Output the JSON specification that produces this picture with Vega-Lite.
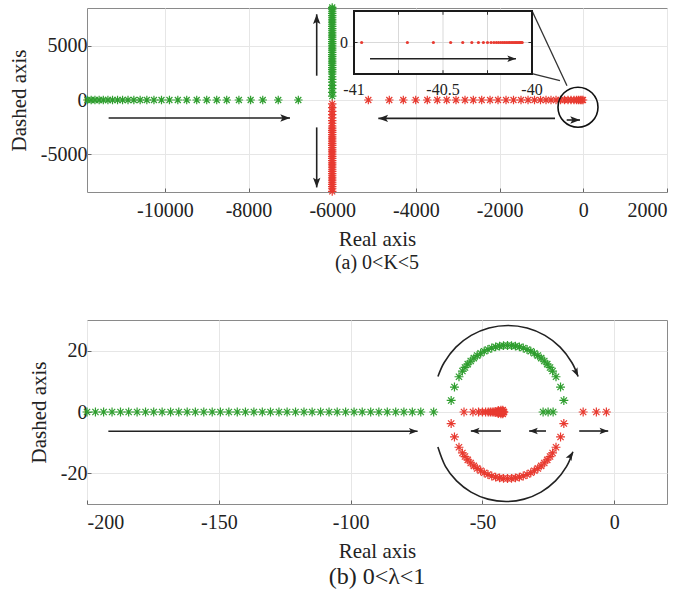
{
  "$schema": "https://vega.github.io/schema/vega-lite/v6.json",
  "background": "white",
  "padding": {"left": 7, "top": 0, "right": 5, "bottom": 5},
  "config": {
    "view": {"stroke": "#8a8a8a", "strokeWidth": 1},
    "font": "'Liberation Serif', 'Times New Roman', serif",
    "axis": {"labelFont": "'Liberation Serif', 'Times New Roman', serif", "labelFontSize": 20, "labelColor": "#222", "titleFont": "'Liberation Serif', 'Times New Roman', serif", "titleFontSize": 21, "titleFontWeight": "normal", "titleColor": "#222", "gridColor": "#e6e6e6", "gridWidth": 1, "domain": false, "tickColor": "#666", "tickSize": -4, "labelPadding": 12, "titlePadding": 8},
    "axisY": {"labelPadding": 4, "titlePadding": 11},
    "title": {"font": "'Liberation Serif', 'Times New Roman', serif", "fontWeight": "normal", "color": "#222"},
    "text": {"font": "'Liberation Serif', 'Times New Roman', serif"}
  },
  "datasets": {
    "ptsA": [
      {"x": -11850, "y": 0, "c": "g"}, {"x": -11760, "y": 0, "c": "g"}, {"x": -11670, "y": 0, "c": "g"}, {"x": -11570, "y": 0, "c": "g"}, {"x": -11470, "y": 0, "c": "g"}, {"x": -11360, "y": 0, "c": "g"}, {"x": -11250, "y": 0, "c": "g"}, {"x": -11130, "y": 0, "c": "g"}, {"x": -11010, "y": 0, "c": "g"}, {"x": -10880, "y": 0, "c": "g"}, {"x": -10740, "y": 0, "c": "g"}, {"x": -10590, "y": 0, "c": "g"}, {"x": -10430, "y": 0, "c": "g"}, {"x": -10260, "y": 0, "c": "g"}, {"x": -10080, "y": 0, "c": "g"}, {"x": -9890, "y": 0, "c": "g"}, {"x": -9690, "y": 0, "c": "g"}, {"x": -9477, "y": 0, "c": "g"}, {"x": -9238, "y": 0, "c": "g"}, {"x": -8999, "y": 0, "c": "g"}, {"x": -8760, "y": 0, "c": "g"}, {"x": -8521, "y": 0, "c": "g"}, {"x": -8230, "y": 0, "c": "g"}, {"x": -7950, "y": 0, "c": "g"}, {"x": -7660, "y": 0, "c": "g"}, {"x": -7290, "y": 0, "c": "g"}, {"x": -6810, "y": 0, "c": "g"},
      {"x": -6000, "y": 350, "c": "g"}, {"x": -6000, "y": 700, "c": "g"}, {"x": -6000, "y": 1050, "c": "g"}, {"x": -6000, "y": 1350, "c": "g"}, {"x": -6000, "y": 1650, "c": "g"}, {"x": -6000, "y": 1900, "c": "g"}, {"x": -6000, "y": 2150, "c": "g"}, {"x": -6000, "y": 2400, "c": "g"}, {"x": -6000, "y": 2600, "c": "g"}, {"x": -6000, "y": 2800, "c": "g"}, {"x": -6000, "y": 3000, "c": "g"}, {"x": -6000, "y": 3200, "c": "g"}, {"x": -6000, "y": 3400, "c": "g"}, {"x": -6000, "y": 3600, "c": "g"}, {"x": -6000, "y": 3800, "c": "g"}, {"x": -6000, "y": 4000, "c": "g"}, {"x": -6000, "y": 4200, "c": "g"}, {"x": -6000, "y": 4400, "c": "g"}, {"x": -6000, "y": 4600, "c": "g"}, {"x": -6000, "y": 4800, "c": "g"}, {"x": -6000, "y": 5000, "c": "g"}, {"x": -6000, "y": 5200, "c": "g"}, {"x": -6000, "y": 5400, "c": "g"}, {"x": -6000, "y": 5600, "c": "g"}, {"x": -6000, "y": 5800, "c": "g"}, {"x": -6000, "y": 6000, "c": "g"}, {"x": -6000, "y": 6200, "c": "g"}, {"x": -6000, "y": 6400, "c": "g"}, {"x": -6000, "y": 6600, "c": "g"}, {"x": -6000, "y": 6800, "c": "g"}, {"x": -6000, "y": 7000, "c": "g"}, {"x": -6000, "y": 7200, "c": "g"}, {"x": -6000, "y": 7400, "c": "g"}, {"x": -6000, "y": 7600, "c": "g"}, {"x": -6000, "y": 7800, "c": "g"}, {"x": -6000, "y": 8000, "c": "g"}, {"x": -6000, "y": 8200, "c": "g"}, {"x": -6000, "y": 8400, "c": "g"}, {"x": -6000, "y": 8550, "c": "g"},
      {"x": -6000, "y": -350, "c": "r"}, {"x": -6000, "y": -700, "c": "r"}, {"x": -6000, "y": -1050, "c": "r"}, {"x": -6000, "y": -1350, "c": "r"}, {"x": -6000, "y": -1650, "c": "r"}, {"x": -6000, "y": -1900, "c": "r"}, {"x": -6000, "y": -2150, "c": "r"}, {"x": -6000, "y": -2400, "c": "r"}, {"x": -6000, "y": -2600, "c": "r"}, {"x": -6000, "y": -2800, "c": "r"}, {"x": -6000, "y": -3000, "c": "r"}, {"x": -6000, "y": -3200, "c": "r"}, {"x": -6000, "y": -3400, "c": "r"}, {"x": -6000, "y": -3600, "c": "r"}, {"x": -6000, "y": -3800, "c": "r"}, {"x": -6000, "y": -4000, "c": "r"}, {"x": -6000, "y": -4200, "c": "r"}, {"x": -6000, "y": -4400, "c": "r"}, {"x": -6000, "y": -4600, "c": "r"}, {"x": -6000, "y": -4800, "c": "r"}, {"x": -6000, "y": -5000, "c": "r"}, {"x": -6000, "y": -5200, "c": "r"}, {"x": -6000, "y": -5400, "c": "r"}, {"x": -6000, "y": -5600, "c": "r"}, {"x": -6000, "y": -5800, "c": "r"}, {"x": -6000, "y": -6000, "c": "r"}, {"x": -6000, "y": -6200, "c": "r"}, {"x": -6000, "y": -6400, "c": "r"}, {"x": -6000, "y": -6600, "c": "r"}, {"x": -6000, "y": -6800, "c": "r"}, {"x": -6000, "y": -7000, "c": "r"}, {"x": -6000, "y": -7200, "c": "r"}, {"x": -6000, "y": -7400, "c": "r"}, {"x": -6000, "y": -7600, "c": "r"}, {"x": -6000, "y": -7800, "c": "r"}, {"x": -6000, "y": -8000, "c": "r"}, {"x": -6000, "y": -8200, "c": "r"}, {"x": -6000, "y": -8450, "c": "r"},
      {"x": -5137, "y": 0, "c": "r"}, {"x": -4636, "y": 0, "c": "r"}, {"x": -4301, "y": 0, "c": "r"}, {"x": -4005, "y": 0, "c": "r"}, {"x": -3728, "y": 0, "c": "r"}, {"x": -3489, "y": 0, "c": "r"}, {"x": -3265, "y": 0, "c": "r"}, {"x": -3042, "y": 0, "c": "r"}, {"x": -2827, "y": 0, "c": "r"}, {"x": -2628, "y": 0, "c": "r"}, {"x": -2428, "y": 0, "c": "r"}, {"x": -2229, "y": 0, "c": "r"}, {"x": -2038, "y": 0, "c": "r"}, {"x": -1847, "y": 0, "c": "r"}, {"x": -1668, "y": 0, "c": "r"}, {"x": -1489, "y": 0, "c": "r"}, {"x": -1321, "y": 0, "c": "r"}, {"x": -1166, "y": 0, "c": "r"}, {"x": -1023, "y": 0, "c": "r"}, {"x": -891, "y": 0, "c": "r"}, {"x": -772, "y": 0, "c": "r"}, {"x": -652, "y": 0, "c": "r"}, {"x": -545, "y": 0, "c": "r"}, {"x": -449, "y": 0, "c": "r"}, {"x": -366, "y": 0, "c": "r"}, {"x": -294, "y": 0, "c": "r"}, {"x": -222, "y": 0, "c": "r"}, {"x": -162, "y": 0, "c": "r"}, {"x": -115, "y": 0, "c": "r"}, {"x": -72, "y": 0, "c": "r"}, {"x": -36, "y": 0, "c": "r"}, {"x": -7, "y": 0, "c": "r"}
    ],
    "arrA": [
      {"x": -11343, "y": -1663, "x2": -7008, "y2": -1663},
      {"x": -676, "y": -1700, "x2": -4898, "y2": -1700},
      {"x": -397, "y": -1848, "x2": -79, "y2": -1848},
      {"x": -6371, "y": 2245, "x2": -6371, "y2": 7918},
      {"x": -6371, "y": -2531, "x2": -6371, "y2": -8075}
    ],
    "headA": [
      {"x": -7008, "y": -1663, "a": 90},
      {"x": -4898, "y": -1700, "a": 270},
      {"x": -79, "y": -1848, "a": 90},
      {"x": -6371, "y": 7918, "a": 0},
      {"x": -6371, "y": -8075, "a": 180}
    ],
    "circA": [{"x": -127, "y": -665}],
    "connA": [
      {"x": -1226, "y": 8250, "x2": -390, "y2": 1321},
      {"x": -1226, "y": 2430, "x2": -557, "y2": 1783}
    ],
    "inBox": [{"x": -41, "x2": -40, "y": -1, "y2": 1}],
    "inGridV": [
      {"x": -40.75, "y": -1, "y2": 1}, {"x": -40.5, "y": -1, "y2": 1}, {"x": -40.25, "y": -1, "y2": 1}
    ],
    "inGridH": [{"x": -41, "x2": -40, "y": 0}],
    "inTicks": [
      {"x": -40.75, "x2": -40.75, "y": -1, "y2": -0.88}, {"x": -40.5, "x2": -40.5, "y": -1, "y2": -0.88}, {"x": -40.25, "x2": -40.25, "y": -1, "y2": -0.88},
      {"x": -40.75, "x2": -40.75, "y": 1, "y2": 0.88}, {"x": -40.5, "x2": -40.5, "y": 1, "y2": 0.88}, {"x": -40.25, "x2": -40.25, "y": 1, "y2": 0.88},
      {"x": -41, "x2": -40.98, "y": 0, "y2": 0}, {"x": -40, "x2": -40.02, "y": 0, "y2": 0}
    ],
    "inDots": [
      {"x": -40.957, "y": 0}, {"x": -40.7, "y": 0}, {"x": -40.554, "y": 0}, {"x": -40.457, "y": 0}, {"x": -40.389, "y": 0}, {"x": -40.338, "y": 0}, {"x": -40.301, "y": 0}, {"x": -40.273, "y": 0}, {"x": -40.25, "y": 0}, {"x": -40.23, "y": 0}, {"x": -40.214, "y": 0}, {"x": -40.2, "y": 0}, {"x": -40.188, "y": 0}, {"x": -40.176, "y": 0}, {"x": -40.165, "y": 0}, {"x": -40.155, "y": 0}, {"x": -40.145, "y": 0}, {"x": -40.135, "y": 0}, {"x": -40.126, "y": 0}, {"x": -40.117, "y": 0}, {"x": -40.108, "y": 0}, {"x": -40.1, "y": 0}, {"x": -40.092, "y": 0}, {"x": -40.085, "y": 0}, {"x": -40.078, "y": 0}, {"x": -40.071, "y": 0}, {"x": -40.065, "y": 0}, {"x": -40.06, "y": 0}, {"x": -40.055, "y": 0}
    ],
    "inArr": [{"x": -40.91, "x2": -40.09, "y": -0.514}],
    "inHead": [{"x": -40.09, "y": -0.514, "a": 90}],
    "inLabX": [{"x": -41, "y": -1.5, "t": "-41"}, {"x": -40.5, "y": -1.5, "t": "-40.5"}, {"x": -40, "y": -1.5, "t": "-40"}],
    "inLabY": [{"x": -41, "y": 0, "t": "0"}],
    "ptsB": [
      {"x": -200, "y": 0, "c": "g"}, {"x": -196.8, "y": 0, "c": "g"}, {"x": -193.7, "y": 0, "c": "g"}, {"x": -190.5, "y": 0, "c": "g"}, {"x": -187.3, "y": 0, "c": "g"}, {"x": -184.2, "y": 0, "c": "g"}, {"x": -181, "y": 0, "c": "g"}, {"x": -177.8, "y": 0, "c": "g"}, {"x": -174.7, "y": 0, "c": "g"}, {"x": -171.5, "y": 0, "c": "g"}, {"x": -168.3, "y": 0, "c": "g"}, {"x": -165.2, "y": 0, "c": "g"}, {"x": -162, "y": 0, "c": "g"}, {"x": -158.9, "y": 0, "c": "g"}, {"x": -155.7, "y": 0, "c": "g"}, {"x": -152.5, "y": 0, "c": "g"}, {"x": -149.4, "y": 0, "c": "g"}, {"x": -146.2, "y": 0, "c": "g"}, {"x": -143, "y": 0, "c": "g"}, {"x": -139.9, "y": 0, "c": "g"}, {"x": -136.7, "y": 0, "c": "g"}, {"x": -133.5, "y": 0, "c": "g"}, {"x": -130.4, "y": 0, "c": "g"}, {"x": -127.2, "y": 0, "c": "g"}, {"x": -124.1, "y": 0, "c": "g"}, {"x": -120.9, "y": 0, "c": "g"}, {"x": -117.7, "y": 0, "c": "g"}, {"x": -114.6, "y": 0, "c": "g"}, {"x": -111.4, "y": 0, "c": "g"}, {"x": -108.2, "y": 0, "c": "g"}, {"x": -105.1, "y": 0, "c": "g"}, {"x": -101.9, "y": 0, "c": "g"}, {"x": -98.7, "y": 0, "c": "g"}, {"x": -95.6, "y": 0, "c": "g"}, {"x": -92.4, "y": 0, "c": "g"}, {"x": -89.3, "y": 0, "c": "g"}, {"x": -86.1, "y": 0, "c": "g"}, {"x": -82.9, "y": 0, "c": "g"}, {"x": -79.8, "y": 0, "c": "g"}, {"x": -76.6, "y": 0, "c": "g"}, {"x": -73.4, "y": 0, "c": "g"}, {"x": -68.5, "y": 0, "c": "g"},
      {"x": -19.13, "y": 3.77, "c": "g"}, {"x": -20.38, "y": 8.13, "c": "g"}, {"x": -22.1, "y": 11.5, "c": "g"}, {"x": -23.4, "y": 13.36, "c": "g"}, {"x": -24.37, "y": 14.52, "c": "g"}, {"x": -25.43, "y": 15.61, "c": "g"}, {"x": -26.55, "y": 16.62, "c": "g"}, {"x": -27.74, "y": 17.56, "c": "g"}, {"x": -29, "y": 18.4, "c": "g"}, {"x": -30.31, "y": 19.16, "c": "g"}, {"x": -31.67, "y": 19.82, "c": "g"}, {"x": -33.08, "y": 20.39, "c": "g"}, {"x": -34.52, "y": 20.86, "c": "g"}, {"x": -35.99, "y": 21.23, "c": "g"}, {"x": -37.48, "y": 21.49, "c": "g"}, {"x": -38.99, "y": 21.65, "c": "g"}, {"x": -40.5, "y": 21.7, "c": "g"}, {"x": -42.01, "y": 21.65, "c": "g"}, {"x": -43.52, "y": 21.49, "c": "g"}, {"x": -45.01, "y": 21.23, "c": "g"}, {"x": -46.48, "y": 20.86, "c": "g"}, {"x": -47.92, "y": 20.39, "c": "g"}, {"x": -49.33, "y": 19.82, "c": "g"}, {"x": -50.69, "y": 19.16, "c": "g"}, {"x": -52, "y": 18.4, "c": "g"}, {"x": -53.26, "y": 17.56, "c": "g"}, {"x": -54.45, "y": 16.62, "c": "g"}, {"x": -55.57, "y": 15.61, "c": "g"}, {"x": -56.63, "y": 14.52, "c": "g"}, {"x": -57.6, "y": 13.36, "c": "g"}, {"x": -58.9, "y": 11.5, "c": "g"}, {"x": -60.62, "y": 8.13, "c": "g"}, {"x": -61.87, "y": 3.77, "c": "g"},
      {"x": -27, "y": 0, "c": "g"}, {"x": -25.1, "y": 0, "c": "g"}, {"x": -23.2, "y": 0, "c": "g"},
      {"x": -19.13, "y": -3.77, "c": "r"}, {"x": -20.38, "y": -8.13, "c": "r"}, {"x": -22.1, "y": -11.5, "c": "r"}, {"x": -23.4, "y": -13.36, "c": "r"}, {"x": -24.37, "y": -14.52, "c": "r"}, {"x": -25.43, "y": -15.61, "c": "r"}, {"x": -26.55, "y": -16.62, "c": "r"}, {"x": -27.74, "y": -17.56, "c": "r"}, {"x": -29, "y": -18.4, "c": "r"}, {"x": -30.31, "y": -19.16, "c": "r"}, {"x": -31.67, "y": -19.82, "c": "r"}, {"x": -33.08, "y": -20.39, "c": "r"}, {"x": -34.52, "y": -20.86, "c": "r"}, {"x": -35.99, "y": -21.23, "c": "r"}, {"x": -37.48, "y": -21.49, "c": "r"}, {"x": -38.99, "y": -21.65, "c": "r"}, {"x": -40.5, "y": -21.7, "c": "r"}, {"x": -42.01, "y": -21.65, "c": "r"}, {"x": -43.52, "y": -21.49, "c": "r"}, {"x": -45.01, "y": -21.23, "c": "r"}, {"x": -46.48, "y": -20.86, "c": "r"}, {"x": -47.92, "y": -20.39, "c": "r"}, {"x": -49.33, "y": -19.82, "c": "r"}, {"x": -50.69, "y": -19.16, "c": "r"}, {"x": -52, "y": -18.4, "c": "r"}, {"x": -53.26, "y": -17.56, "c": "r"}, {"x": -54.45, "y": -16.62, "c": "r"}, {"x": -55.57, "y": -15.61, "c": "r"}, {"x": -56.63, "y": -14.52, "c": "r"}, {"x": -57.6, "y": -13.36, "c": "r"}, {"x": -58.9, "y": -11.5, "c": "r"}, {"x": -60.62, "y": -8.13, "c": "r"}, {"x": -61.87, "y": -3.77, "c": "r"},
      {"x": -57, "y": 0, "c": "r"}, {"x": -53.6, "y": 0, "c": "r"}, {"x": -51.5, "y": 0, "c": "r"}, {"x": -50, "y": 0, "c": "r"}, {"x": -48.8, "y": 0, "c": "r"}, {"x": -47.8, "y": 0, "c": "r"}, {"x": -47, "y": 0, "c": "r"}, {"x": -46.3, "y": 0, "c": "r"}, {"x": -45.7, "y": 0, "c": "r"}, {"x": -45.2, "y": 0, "c": "r"}, {"x": -44.7, "y": 0, "c": "r"}, {"x": -44.3, "y": 0, "c": "r"}, {"x": -43.9, "y": 0, "c": "r"}, {"x": -43.6, "y": 0, "c": "r"}, {"x": -43.3, "y": 0, "c": "r"}, {"x": -43, "y": 0, "c": "r"}, {"x": -42.8, "y": 0, "c": "r"}, {"x": -42.6, "y": 0, "c": "r"}, {"x": -42.4, "y": 0, "c": "r"}, {"x": -42.2, "y": 0, "c": "r"}, {"x": -42, "y": 0, "c": "r"}, {"x": -41.85, "y": 0, "c": "r"},
      {"x": -44, "y": 0.5, "c": "r"}, {"x": -44, "y": -0.5, "c": "r"}, {"x": -43, "y": 0.6, "c": "r"}, {"x": -43, "y": -0.6, "c": "r"}, {"x": -42.3, "y": 0.6, "c": "r"}, {"x": -42.3, "y": -0.6, "c": "r"},
      {"x": -11.8, "y": 0, "c": "r"}, {"x": -6.8, "y": 0, "c": "r"}, {"x": -3, "y": 0, "c": "r"}
    ],
    "arrB": [
      {"x": -191.9, "y": -6.3, "x2": -74.6, "y2": -6.3},
      {"x": -43, "y": -6.2, "x2": -54.4, "y2": -6.2},
      {"x": -25.9, "y": -6.2, "x2": -32.3, "y2": -6.2},
      {"x": -13.3, "y": -6.2, "x2": -2.3, "y2": -6.2}
    ],
    "arcB": [
      {"id": "t", "o": 1, "x": -66.88, "y": 11.55}, {"id": "t", "o": 2, "x": -64.5, "y": 16.15}, {"id": "t", "o": 3, "x": -60.06, "y": 21.14}, {"id": "t", "o": 4, "x": -54.28, "y": 24.97}, {"id": "t", "o": 5, "x": -47.54, "y": 27.38}, {"id": "t", "o": 6, "x": -40.3, "y": 28.2}, {"id": "t", "o": 7, "x": -33.06, "y": 27.38}, {"id": "t", "o": 8, "x": -26.32, "y": 24.97}, {"id": "t", "o": 9, "x": -20.54, "y": 21.14}, {"id": "t", "o": 10, "x": -16.1, "y": 16.15}, {"id": "t", "o": 11, "x": -13.72, "y": 11.55},
      {"id": "b", "o": 1, "x": -66.91, "y": -11.45}, {"id": "b", "o": 2, "x": -64.04, "y": -17.75}, {"id": "b", "o": 3, "x": -59.82, "y": -22.48}, {"id": "b", "o": 4, "x": -54.33, "y": -26.12}, {"id": "b", "o": 5, "x": -47.93, "y": -28.41}, {"id": "b", "o": 6, "x": -41.06, "y": -29.19}, {"id": "b", "o": 7, "x": -34.19, "y": -28.41}, {"id": "b", "o": 8, "x": -27.79, "y": -26.12}, {"id": "b", "o": 9, "x": -22.3, "y": -22.48}, {"id": "b", "o": 10, "x": -18.08, "y": -17.75}, {"id": "b", "o": 11, "x": -15.69, "y": -12.98}
    ],
    "headB": [
      {"x": -74.6, "y": -6.3, "a": 90},
      {"x": -54.4, "y": -6.2, "a": 270},
      {"x": -32.3, "y": -6.2, "a": 270},
      {"x": -2.3, "y": -6.2, "a": 90},
      {"x": -13.72, "y": 11.55, "a": 155},
      {"x": -15.69, "y": -12.98, "a": 30}
    ]
  },
  "vconcat": [
    {
      "width": 580,
      "height": 184,
      "title": {"text": "(a)  0<K<5", "orient": "bottom", "fontSize": 20, "offset": 4},
      "layer": [
        {
          "layer": [
            {
              "data": {"name": "ptsA"},
              "mark": {"type": "point", "shape": "M-1,0L1,0M0,-1L0,1M-0.7,-0.7L0.7,0.7M-0.7,0.7L0.7,-0.7", "filled": false, "size": 72, "strokeWidth": 1.2, "opacity": 1},
              "encoding": {
                "x": {"field": "x", "type": "quantitative", "scale": {"domain": [-11860, 2000], "nice": false, "zero": false}, "axis": {"values": [-10000, -8000, -6000, -4000, -2000, 0, 2000], "format": "d", "labelExpr": "replace(datum.label, '\u2212', '-')", "title": "Real axis"}},
                "y": {"field": "y", "type": "quantitative", "scale": {"domain": [-8500, 8500], "nice": false, "zero": false}, "axis": {"values": [-5000, 0, 5000], "format": "d", "labelExpr": "replace(datum.label, '\u2212', '-')", "title": "Dashed axis"}},
                "color": {"field": "c", "type": "nominal", "scale": {"domain": ["g", "r"], "range": ["#2f9e2f", "#e83a30"]}, "legend": null}
              }
            },
            {
              "data": {"name": "arrA"},
              "mark": {"type": "rule", "color": "#222", "strokeWidth": 1.6},
              "encoding": {"x": {"field": "x", "type": "quantitative"}, "y": {"field": "y", "type": "quantitative"}, "x2": {"field": "x2"}, "y2": {"field": "y2"}}
            },
            {
              "data": {"name": "headA"},
              "mark": {"type": "point", "shape": "M0,0L-0.38,1L0,0.78L0.38,1Z", "filled": true, "color": "#222", "size": 380, "opacity": 1, "strokeWidth": 0},
              "encoding": {"x": {"field": "x", "type": "quantitative"}, "y": {"field": "y", "type": "quantitative"}, "angle": {"field": "a", "type": "quantitative", "scale": null}}
            },
            {
              "data": {"name": "circA"},
              "mark": {"type": "point", "shape": "circle", "filled": false, "color": "#111", "size": 1600, "strokeWidth": 1.6, "opacity": 1},
              "encoding": {"x": {"field": "x", "type": "quantitative"}, "y": {"field": "y", "type": "quantitative"}}
            },
            {
              "data": {"name": "connA"},
              "mark": {"type": "rule", "color": "#333", "strokeWidth": 1.3},
              "encoding": {"x": {"field": "x", "type": "quantitative"}, "y": {"field": "y", "type": "quantitative"}, "x2": {"field": "x2"}, "y2": {"field": "y2"}}
            }
          ]
        },
        {
          "layer": [
            {
              "data": {"name": "inBox"},
              "mark": {"type": "rect", "fill": "white", "strokeWidth": 0},
              "encoding": {
                "x": {"field": "x", "type": "quantitative", "scale": {"domain": [-41, -40], "range": [267, 445], "nice": false, "zero": false}, "axis": null},
                "x2": {"field": "x2"},
                "y": {"field": "y", "type": "quantitative", "scale": {"domain": [-1, 1], "range": [66, 3], "nice": false, "zero": false}, "axis": null},
                "y2": {"field": "y2"}
              }
            },
            {
              "data": {"name": "inGridV"},
              "mark": {"type": "rule", "color": "#d9d9d9", "strokeWidth": 1},
              "encoding": {"x": {"field": "x", "type": "quantitative"}, "y": {"field": "y", "type": "quantitative"}, "y2": {"field": "y2"}}
            },
            {
              "data": {"name": "inGridH"},
              "mark": {"type": "rule", "color": "#d9d9d9", "strokeWidth": 1},
              "encoding": {"x": {"field": "x", "type": "quantitative"}, "x2": {"field": "x2"}, "y": {"field": "y", "type": "quantitative"}}
            },
            {
              "data": {"name": "inTicks"},
              "mark": {"type": "rule", "color": "#333", "strokeWidth": 1},
              "encoding": {"x": {"field": "x", "type": "quantitative"}, "x2": {"field": "x2"}, "y": {"field": "y", "type": "quantitative"}, "y2": {"field": "y2"}}
            },
            {
              "data": {"name": "inDots"},
              "mark": {"type": "point", "shape": "circle", "filled": true, "color": "#e83a30", "size": 10, "opacity": 1},
              "encoding": {"x": {"field": "x", "type": "quantitative"}, "y": {"field": "y", "type": "quantitative"}}
            },
            {
              "data": {"name": "inArr"},
              "mark": {"type": "rule", "color": "#222", "strokeWidth": 1.6},
              "encoding": {"x": {"field": "x", "type": "quantitative"}, "x2": {"field": "x2"}, "y": {"field": "y", "type": "quantitative"}}
            },
            {
              "data": {"name": "inHead"},
              "mark": {"type": "point", "shape": "M0,0L-0.38,1L0,0.78L0.38,1Z", "filled": true, "color": "#222", "size": 300, "opacity": 1, "strokeWidth": 0},
              "encoding": {"x": {"field": "x", "type": "quantitative"}, "y": {"field": "y", "type": "quantitative"}, "angle": {"field": "a", "type": "quantitative", "scale": null}}
            },
            {
              "data": {"name": "inLabX"},
              "mark": {"type": "text", "font": "'Liberation Serif', 'Times New Roman', serif", "fontSize": 16, "color": "#222", "baseline": "middle", "align": "center"},
              "encoding": {"x": {"field": "x", "type": "quantitative"}, "y": {"field": "y", "type": "quantitative"}, "text": {"field": "t"}}
            },
            {
              "data": {"name": "inLabY"},
              "mark": {"type": "text", "font": "'Liberation Serif', 'Times New Roman', serif", "fontSize": 16, "color": "#222", "baseline": "middle", "align": "right", "dx": -6},
              "encoding": {"x": {"field": "x", "type": "quantitative"}, "y": {"field": "y", "type": "quantitative"}, "text": {"field": "t"}}
            },
            {
              "data": {"name": "inBox"},
              "mark": {"type": "rect", "fill": null, "fillOpacity": 0, "stroke": "#1a1a1a", "strokeWidth": 2},
              "encoding": {"x": {"field": "x", "type": "quantitative"}, "x2": {"field": "x2"}, "y": {"field": "y", "type": "quantitative"}, "y2": {"field": "y2"}}
            }
          ]
        }
      ],
      "resolve": {"scale": {"x": "independent", "y": "independent"}}
    },
    {
      "width": 580,
      "height": 184,
      "title": {"text": "(b)  0<λ<1", "orient": "bottom", "fontSize": 24, "offset": 4},
      "layer": [
        {
          "data": {"name": "ptsB"},
          "mark": {"type": "point", "shape": "M-1,0L1,0M0,-1L0,1M-0.7,-0.7L0.7,0.7M-0.7,0.7L0.7,-0.7", "filled": false, "size": 80, "strokeWidth": 1.2, "opacity": 1},
          "encoding": {
            "x": {"field": "x", "type": "quantitative", "scale": {"domain": [-200, 20], "nice": false, "zero": false}, "axis": {"values": [-200, -150, -100, -50, 0], "format": "d", "labelExpr": "replace(datum.label, '\u2212', '-')", "title": "Real axis"}},
            "y": {"field": "y", "type": "quantitative", "scale": {"domain": [-30, 30], "nice": false, "zero": false}, "axis": {"values": [-20, 0, 20], "format": "d", "labelExpr": "replace(datum.label, '\u2212', '-')", "title": "Dashed axis"}},
            "color": {"field": "c", "type": "nominal", "scale": {"domain": ["g", "r"], "range": ["#2f9e2f", "#e83a30"]}, "legend": null}
          }
        },
        {
          "data": {"name": "arrB"},
          "mark": {"type": "rule", "color": "#222", "strokeWidth": 1.6},
          "encoding": {"x": {"field": "x", "type": "quantitative"}, "y": {"field": "y", "type": "quantitative"}, "x2": {"field": "x2"}, "y2": {"field": "y2"}}
        },
        {
          "data": {"name": "arcB"},
          "mark": {"type": "line", "color": "#222", "strokeWidth": 1.6, "interpolate": "cardinal"},
          "encoding": {"x": {"field": "x", "type": "quantitative"}, "y": {"field": "y", "type": "quantitative"}, "detail": {"field": "id", "type": "nominal"}, "order": {"field": "o", "type": "quantitative"}}
        },
        {
          "data": {"name": "headB"},
          "mark": {"type": "point", "shape": "M0,0L-0.38,1L0,0.78L0.38,1Z", "filled": true, "color": "#222", "size": 300, "opacity": 1, "strokeWidth": 0},
          "encoding": {"x": {"field": "x", "type": "quantitative"}, "y": {"field": "y", "type": "quantitative"}, "angle": {"field": "a", "type": "quantitative", "scale": null}}
        }
      ]
    }
  ],
  "spacing": 128,
  "bounds": "flush"
}
